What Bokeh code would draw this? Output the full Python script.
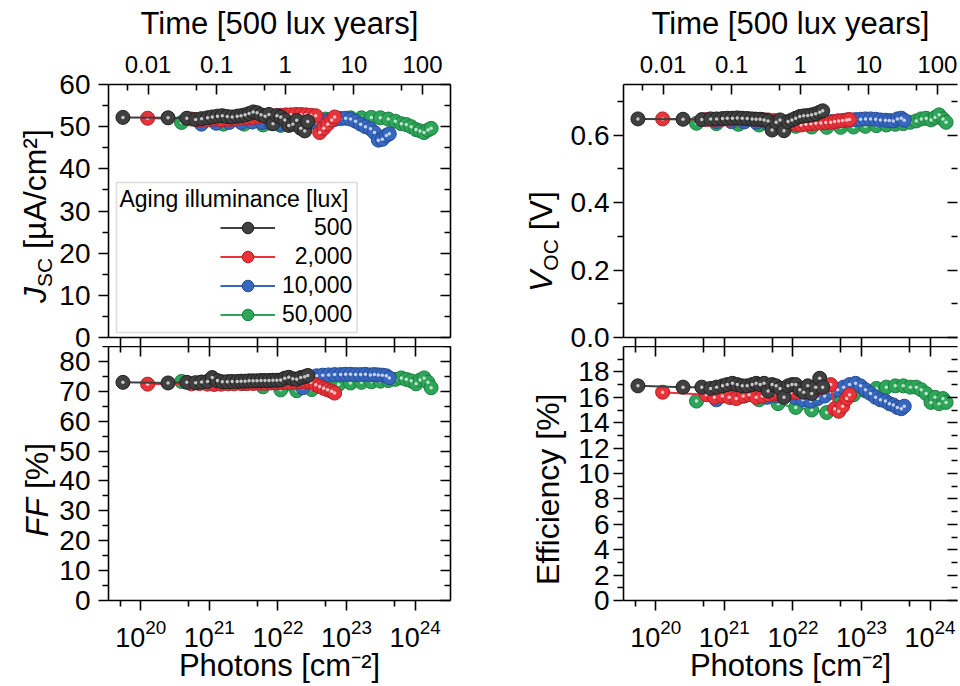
from bokeh.plotting import figure
from bokeh.models import (Range1d, LogScale, LogAxis, LinearAxis, FixedTicker,
                          LogTickFormatter, PrintfTickFormatter, CustomJSTickFormatter,
                          Label, Legend, LegendItem, BoxAnnotation, Div)
from bokeh.layouts import column, row
from bokeh.embed import file_html
from bokeh.resources import INLINE

FONT = "Liberation Sans"
PHOTONS_PER_500LUX_YEAR = 1.28e22

# ---------------- data (photons [cm^-2]) ----------------
black_x = [5.5e19, 2.5e20, 4.7e20, 6.3e20, 7.7e20, 9.4e20, 1.10e21, 1.31e21, 1.54e21, 1.82e21,
           2.15e21, 2.55e21, 2.91e21, 3.33e21, 3.80e21, 4.35e21, 4.97e21, 5.68e21, 6.49e21, 7.41e21,
           8.47e21, 9.68e21, 1.10e22, 1.26e22, 1.44e22, 1.65e22, 1.88e22, 2.15e22, 2.46e22, 2.72e22]
black_jsc = [52.2, 52.1, 52.0, 51.7, 51.9, 52.1, 52.3, 52.5, 52.6, 52.4, 52.3, 52.5, 52.6, 52.8, 53.1,
             53.5, 53.3, 52.8, 52.5, 52.9, 50.7, 52.6, 52.3, 51.6, 50.3, 50.6, 51.5, 49.6, 49.0, 51.2]
black_ff = [73.0, 72.8, 73.0, 72.9, 73.1, 73.3, 74.6, 73.6, 73.2, 73.2, 73.3, 73.3, 73.4, 73.4, 73.5,
            73.5, 73.5, 73.6, 73.6, 73.6, 73.7, 73.7, 73.8, 74.4, 74.7, 74.2, 74.0, 74.6, 74.9, 75.3]
black_voc = [0.648, 0.647, 0.646, 0.648, 0.648, 0.649, 0.650, 0.650, 0.651, 0.650, 0.649, 0.648, 0.647,
             0.647, 0.645, 0.642, 0.615, 0.638, 0.645, 0.613, 0.640, 0.645, 0.650, 0.655, 0.657, 0.658,
             0.660, 0.663, 0.668, 0.672]
black_eff = [16.9, 16.8, 16.8, 16.7, 16.8, 16.9, 17.0, 17.1, 17.0, 16.9, 16.9, 17.0, 17.1, 17.0, 17.1,
             16.5, 17.0, 16.9, 16.7, 16.0, 16.9, 17.0, 17.0, 16.6, 16.4, 16.9, 16.3, 16.8, 17.5, 16.8]

red_x = [1.26e20, 5.48e20, 7.16e20, 9.35e20, 1.18e21, 1.49e21, 1.88e21, 2.30e21, 2.91e21, 3.56e21,
         4.35e21, 5.31e21, 6.49e21, 7.93e21, 9.35e21, 1.10e22, 1.31e22, 1.54e22, 1.82e22, 2.15e22,
         2.55e22, 3.01e22, 3.56e22, 4.06e22, 4.65e22, 5.31e22, 6.07e22, 6.70e22]
red_jsc = [52.0, 51.8, 51.5, 51.6, 51.8, 51.6, 51.7, 51.8, 52.0, 52.1, 52.2, 52.3, 52.4, 52.5, 52.6,
           52.7, 52.8, 52.8, 52.9, 52.9, 52.8, 52.7, 52.6, 48.6, 49.6, 50.6, 51.6, 52.3]
red_ff = [72.4, 72.5, 72.6, 72.4, 72.3, 72.4, 72.5, 72.5, 72.6, 72.6, 72.6, 72.7, 72.7, 72.8, 72.8,
          72.9, 73.0, 73.0, 73.1, 73.2, 73.3, 73.0, 72.2, 71.6, 71.0, 70.5, 70.0, 69.4]
red_voc = [0.648, 0.646, 0.646, 0.647, 0.647, 0.648, 0.648, 0.648, 0.647, 0.646, 0.645, 0.643, 0.640,
           0.638, 0.636, 0.632, 0.630, 0.632, 0.634, 0.635, 0.636, 0.637, 0.638, 0.640, 0.642, 0.643,
           0.645, 0.646]
red_eff = [16.4, 16.2, 16.0, 16.1, 16.0, 15.9, 16.1, 16.2, 16.0, 16.1, 16.2, 16.3, 16.2, 16.3, 16.4,
           16.4, 16.6, 16.5, 16.7, 16.6, 16.8, 16.9, 17.0, 15.1, 14.9, 15.3, 15.9, 16.2]

blue_x = [7.66e20, 1.26e21, 1.95e21, 2.91e21, 4.20e21, 5.86e21, 7.93e21, 1.07e22, 1.40e22, 1.82e22,
          2.30e22, 2.91e22, 3.67e22, 4.49e22, 5.48e22, 6.70e22, 8.18e22, 9.68e22, 1.14e23, 1.35e23,
          1.60e23, 1.88e23, 2.23e23, 2.55e23, 2.91e23, 3.33e23, 3.80e23, 4.20e23]
blue_jsc = [50.6, 50.8, 51.0, 51.0, 51.1, 51.0, 50.8, 50.6, 50.5, 50.6, 50.8, 50.9, 51.0, 51.3, 51.5,
            51.7, 51.9, 52.0, 51.8, 51.3, 50.6, 50.0, 49.5, 48.6, 46.8, 47.0, 47.9, 48.3]
blue_ff = [73.0, 73.1, 73.2, 73.3, 73.3, 73.4, 73.5, 73.6, 73.8, 74.0, 71.2, 74.8, 75.2, 75.4, 75.5,
           75.6, 75.6, 75.7, 75.7, 75.6, 75.6, 75.7, 75.5, 75.6, 75.5, 75.4, 75.2, 74.5]
blue_voc = [0.640, 0.640, 0.639, 0.638, 0.636, 0.635, 0.634, 0.634, 0.635, 0.636, 0.637, 0.638, 0.640,
            0.642, 0.643, 0.645, 0.646, 0.647, 0.648, 0.648, 0.647, 0.645, 0.644, 0.643, 0.642, 0.648,
            0.650, 0.644]
blue_eff = [15.8, 16.0, 16.1, 16.2, 16.0, 16.1, 16.2, 16.0, 15.8, 15.7, 15.9, 16.1, 16.4, 16.6, 16.8,
            17.0, 17.1, 16.9, 16.6, 16.3, 16.0, 15.8, 15.7, 15.5, 15.4, 15.2, 15.1, 15.3]

green_x = [3.93e20, 7.66e20, 1.60e21, 3.21e21, 6.07e21, 1.10e22, 1.88e22, 3.11e22, 4.97e22, 7.66e22,
           1.14e23, 1.65e23, 2.30e23, 3.11e23, 4.06e23, 5.13e23, 6.27e23, 7.41e23, 8.75e23, 1.03e24,
           1.18e24, 1.35e24, 1.54e24, 1.71e24]
green_jsc = [51.0, 50.8, 50.6, 50.6, 50.4, 50.3, 50.8, 51.4, 51.8, 52.0, 52.1, 52.1, 52.2, 52.1, 51.8,
             51.3, 50.7, 50.5, 50.0, 49.3, 49.0, 48.6, 49.2, 49.6]
green_ff = [73.3, 73.0, 72.8, 72.6, 71.5, 70.5, 70.2, 70.6, 71.5, 72.3, 72.8, 73.0, 73.2, 73.4, 73.6,
            74.0, 74.5, 74.0, 73.5, 72.5, 73.8, 74.5, 73.0, 71.2]
green_voc = [0.635, 0.634, 0.632, 0.630, 0.628, 0.626, 0.624, 0.623, 0.623, 0.624, 0.626, 0.628, 0.630,
             0.632, 0.634, 0.638, 0.642, 0.648, 0.650, 0.645, 0.652, 0.660, 0.648, 0.638]
green_eff = [15.7, 15.9, 16.0, 15.8, 15.5, 15.2, 15.0, 14.8, 15.6, 16.2, 16.5, 16.7, 16.8, 16.9, 16.9,
             16.8, 16.8, 16.6, 16.3, 15.6, 16.0, 15.5, 15.9, 15.6]

legend_labels = ["500", "2,000", "10,000", "50,000"]
legend_title = "Aging illuminance [lux]"

photon_ticks = [1e20, 1e21, 1e22, 1e23, 1e24]
photon_minor = [5e19, 5e20, 5e21, 5e22, 5e23]
time_ticks = [0.01, 0.1, 1, 10, 100]
time_minor = [0.005, 0.05, 0.5, 5, 50]

# draw order: green, blue, red, black on top
SERIES = [
    (legend_labels[3], green_x, green_jsc, green_ff, green_voc, green_eff, "#2ea65a", "#1d7d40"),
    (legend_labels[2], blue_x, blue_jsc, blue_ff, blue_voc, blue_eff, "#3867c0", "#244c95"),
    (legend_labels[1], red_x, red_jsc, red_ff, red_voc, red_eff, "#e8333a", "#b51f25"),
    (legend_labels[0], black_x, black_jsc, black_ff, black_voc, black_eff, "#404040", "#202020"),
]

# ---------------- layout (page pixels; canvas starts at 0,0) ----------------
DEC = 69.0          # pixels per decade on the photon axis
LOG0 = 19.53        # log10(photons) at the left frame edge
TOTAL_H = 685
STRIP1_W = 56
LEFT_BL, LEFT_FW, LEFT_BR = 50, 344, 10
STRIP2_W = 107
RIGHT_BL, RIGHT_FW, RIGHT_BR = 54, 336, 2
TOP_BT, TOP_FH, TOP_BB = 84, 253, 17     # top canvas reaches 8 px into the lower panel's area
OVERLAP = 8                              # lower figure (transparent) is pulled up over it
BOT_BT, BOT_FH, BOT_BB = 0, 254, 85

STRIP2_X0 = STRIP1_W + LEFT_BL + LEFT_FW + LEFT_BR

BLANK = CustomJSTickFormatter(code="return ''")


def style_axis(ax, labels=True, size="28px"):
    ax.axis_line_width = 1.6
    ax.axis_line_color = "black"
    ax.major_tick_line_width = 1.6
    ax.minor_tick_line_width = 1.6
    ax.major_tick_line_color = "black"
    ax.minor_tick_line_color = "black"
    ax.major_label_text_font = FONT
    ax.major_label_text_color = "black"
    ax.major_label_text_font_size = size
    ax.axis_label_text_font = FONT
    ax.axis_label_text_font_size = "31px"
    ax.axis_label_text_font_style = "normal"
    ax.axis_label_text_color = "black"
    if not labels:
        ax.formatter = BLANK
        ax.major_label_text_font_size = "1px"
        ax.major_label_standoff = 0


def make_panel(bl, fw, br, bt, fh, bb, ymax, yticks, yminor, yfmt, ystandoff, top_panel, right_line=True):
    x_lo = 10 ** LOG0
    x_hi = 10 ** (LOG0 + fw / DEC)
    kw = {} if top_panel else {"margin": (-OVERLAP, 0, 0, 0)}
    p = figure(width=bl + fw + br, height=bt + fh + bb, x_axis_type="log",
               x_range=Range1d(x_lo, x_hi), y_range=Range1d(0, ymax),
               x_axis_location=None, y_axis_location=None,
               output_backend="svg", toolbar_location=None,
               min_border_left=bl, min_border_right=br, min_border_top=bt, min_border_bottom=bb, **kw)
    p.outline_line_color = None
    if top_panel:
        p.background_fill_color = "white"
        p.border_fill_color = "white"
    else:
        p.background_fill_alpha = 0
        p.border_fill_alpha = 0
    p.grid.visible = False

    ly = LinearAxis(ticker=FixedTicker(ticks=yticks, minor_ticks=yminor))
    style_axis(ly)
    ly.formatter = yfmt
    ly.major_tick_out, ly.major_tick_in = 10, 0
    ly.minor_tick_out, ly.minor_tick_in = 6, 0
    ly.major_label_standoff = ystandoff
    p.add_layout(ly, "left")

    ry = LinearAxis(ticker=FixedTicker(ticks=yticks, minor_ticks=yminor))
    style_axis(ry, labels=False)
    ry.major_tick_out, ry.major_tick_in = 0, 10
    ry.minor_tick_out, ry.minor_tick_in = 0, 6
    if not right_line:
        ry.axis_line_color = None
    p.add_layout(ry, "right")

    if top_panel:
        p.extra_x_ranges = {"time": Range1d(x_lo / PHOTONS_PER_500LUX_YEAR, x_hi / PHOTONS_PER_500LUX_YEAR)}
        p.extra_x_scales = {"time": LogScale()}
        tx = LogAxis(x_range_name="time", ticker=FixedTicker(ticks=time_ticks, minor_ticks=time_minor),
                     axis_label="Time [500 lux years]")
        style_axis(tx, size="24px")
        tx.formatter = CustomJSTickFormatter(code="return tick.toString()")
        tx.major_tick_out, tx.major_tick_in = 0, 10
        tx.minor_tick_out, tx.minor_tick_in = 0, 6
        tx.major_label_standoff = 12
        tx.axis_label_standoff = 12
        p.add_layout(tx, "above")
        bx = LogAxis(ticker=FixedTicker(ticks=photon_ticks, minor_ticks=photon_minor))
        style_axis(bx, labels=False)
        bx.major_tick_out, bx.major_tick_in = 9, 0
        bx.minor_tick_out, bx.minor_tick_in = 9, 0
        p.add_layout(bx, "below")
    else:
        tx = LogAxis(ticker=FixedTicker(ticks=photon_ticks, minor_ticks=photon_minor))
        style_axis(tx, labels=False)
        tx.major_tick_out, tx.major_tick_in = 0, 10
        tx.minor_tick_out, tx.minor_tick_in = 0, 6
        p.add_layout(tx, "above")
        bx = LogAxis(ticker=FixedTicker(ticks=photon_ticks, minor_ticks=photon_minor),
                     axis_label="Photons [cm\u207b\u00b2]")
        style_axis(bx, size="27px")
        bx.formatter = LogTickFormatter()
        bx.major_tick_out, bx.major_tick_in = 10, 0
        bx.minor_tick_out, bx.minor_tick_in = 6, 0
        bx.major_label_standoff = 8
        bx.axis_label_standoff = -2
        p.add_layout(bx, "below")
    return p


tl = make_panel(LEFT_BL, LEFT_FW, LEFT_BR, TOP_BT, TOP_FH, TOP_BB, 60.0,
                [0, 10, 20, 30, 40, 50, 60], [5, 15, 25, 35, 45, 55],
                PrintfTickFormatter(format="%d"), 8, True)
bl = make_panel(LEFT_BL, LEFT_FW, LEFT_BR, BOT_BT, BOT_FH, BOT_BB, 85.0,
                list(range(0, 90, 10)), list(range(5, 90, 10)),
                PrintfTickFormatter(format="%d"), 8, False)
tr = make_panel(RIGHT_BL, RIGHT_FW, RIGHT_BR, TOP_BT, TOP_FH, TOP_BB, 0.75,
                [0.0, 0.2, 0.4, 0.6], [0.1, 0.3, 0.5, 0.7],
                PrintfTickFormatter(format="%.1f"), 4, True, right_line=False)
br = make_panel(RIGHT_BL, RIGHT_FW, RIGHT_BR, BOT_BT, BOT_FH, BOT_BB, 20.0,
                list(range(0, 20, 2)), list(range(1, 21, 2)),
                PrintfTickFormatter(format="%d"), 4, False, right_line=False)

legend_renderers = {}
for name, xs, jsc, ff, voc, eff, col, edge in SERIES:
    vals = {"tl": jsc, "bl": ff, "tr": voc, "br": eff}
    for key, p_ in (("tl", tl), ("bl", bl), ("tr", tr), ("br", br)):
        ys = vals[key]
        rl = p_.line(xs, ys, line_color=col, line_width=2)
        rs = p_.scatter(xs, ys, size=14, fill_color=col, line_color=edge, line_width=1)
        p_.scatter(xs, ys, size=3.5, fill_color="white", fill_alpha=0.7, line_color=None)
        if key == "tl":
            legend_renderers[name] = [rl, rs]

# ---------------- legend (inside top-left frame) ----------------
TL_X0, TL_Y1 = STRIP1_W + LEFT_BL, TOP_BT + TOP_FH   # frame left / bottom in page px


def tl_data(xp, yp):
    return 10 ** (LOG0 + (xp - TL_X0) / DEC), (TL_Y1 - yp) * 60.0 / TOP_FH


bx0, by0 = tl_data(114, 332)
bx1, by1 = tl_data(356, 182)
tl.add_layout(BoxAnnotation(left=bx0, right=bx1, bottom=by0, top=by1, fill_color="white",
                            fill_alpha=1.0, line_color="#8a8a8a", line_width=1.5))
tx_, ty_ = tl_data(117, 198)
tl.add_layout(Label(x=tx_, y=ty_, text=legend_title, text_font=FONT, text_font_size="23px",
                    text_color="black", text_align="left", text_baseline="middle"))
pads = {"500": "\u00a0" * 5, "2,000": "\u00a0" * 2, "10,000": "", "50,000": ""}
items = [LegendItem(label=pads[n] + n, renderers=legend_renderers[n]) for n in legend_labels]
leg = Legend(items=items, location=(218 - TL_X0, 8), border_line_color=None, background_fill_alpha=0,
             padding=0, spacing=0, margin=0, glyph_width=55, glyph_height=29, label_height=29,
             label_standoff=7, label_text_font=FONT, label_text_font_size="23px",
             label_text_color="black")
tl.add_layout(leg)

# ---------------- y-axis titles: rotated HTML text in narrow strips ----------------
FS = 32          # title font size
SUB = 21         # subscript font size
BASE = 0.8465    # baseline offset (em) for line-height 1 in Liberation Sans


def rot(xb, y_bottom, inner):
    """Rotated (bottom-to-top) text whose baseline sits at x = xb and which starts at y_bottom."""
    left = xb - BASE * FS
    return (f'<div style="position:absolute;left:{left:.1f}px;top:{y_bottom}px;'
            f'transform:rotate(-90deg);transform-origin:0 0;white-space:nowrap;'
            f'font-family:\'{FONT}\';font-size:{FS}px;line-height:1;color:#000;">{inner}</div>')


def sub(t):
    return f'<span style="font-size:{SUB}px;position:relative;top:6px;">{t}</span>'


def strip(w, parts):
    html = (f'<div style="position:relative;width:{w}px;height:{TOTAL_H}px;overflow:visible;">'
            + "".join(parts) + "</div>")
    return Div(text=html, width=w, height=TOTAL_H, margin=0)


s1 = strip(STRIP1_W, [
    rot(46, 303, "<i>J</i>" + sub("SC") + " [\u00b5A/cm\u00b2]"),
    rot(48, 537, "<i>FF</i> [%]"),
])
x2 = STRIP2_X0
s2 = strip(STRIP2_W, [
    rot(552 - x2, 292, "<i>V</i>" + sub("OC") + " [V]"),
    rot(559 - x2, 585, "Efficiency [%]"),
])

layout = row(s1, column(tl, bl), s2, column(tr, br))
open("out.html", "w").write(file_html(layout, INLINE))
